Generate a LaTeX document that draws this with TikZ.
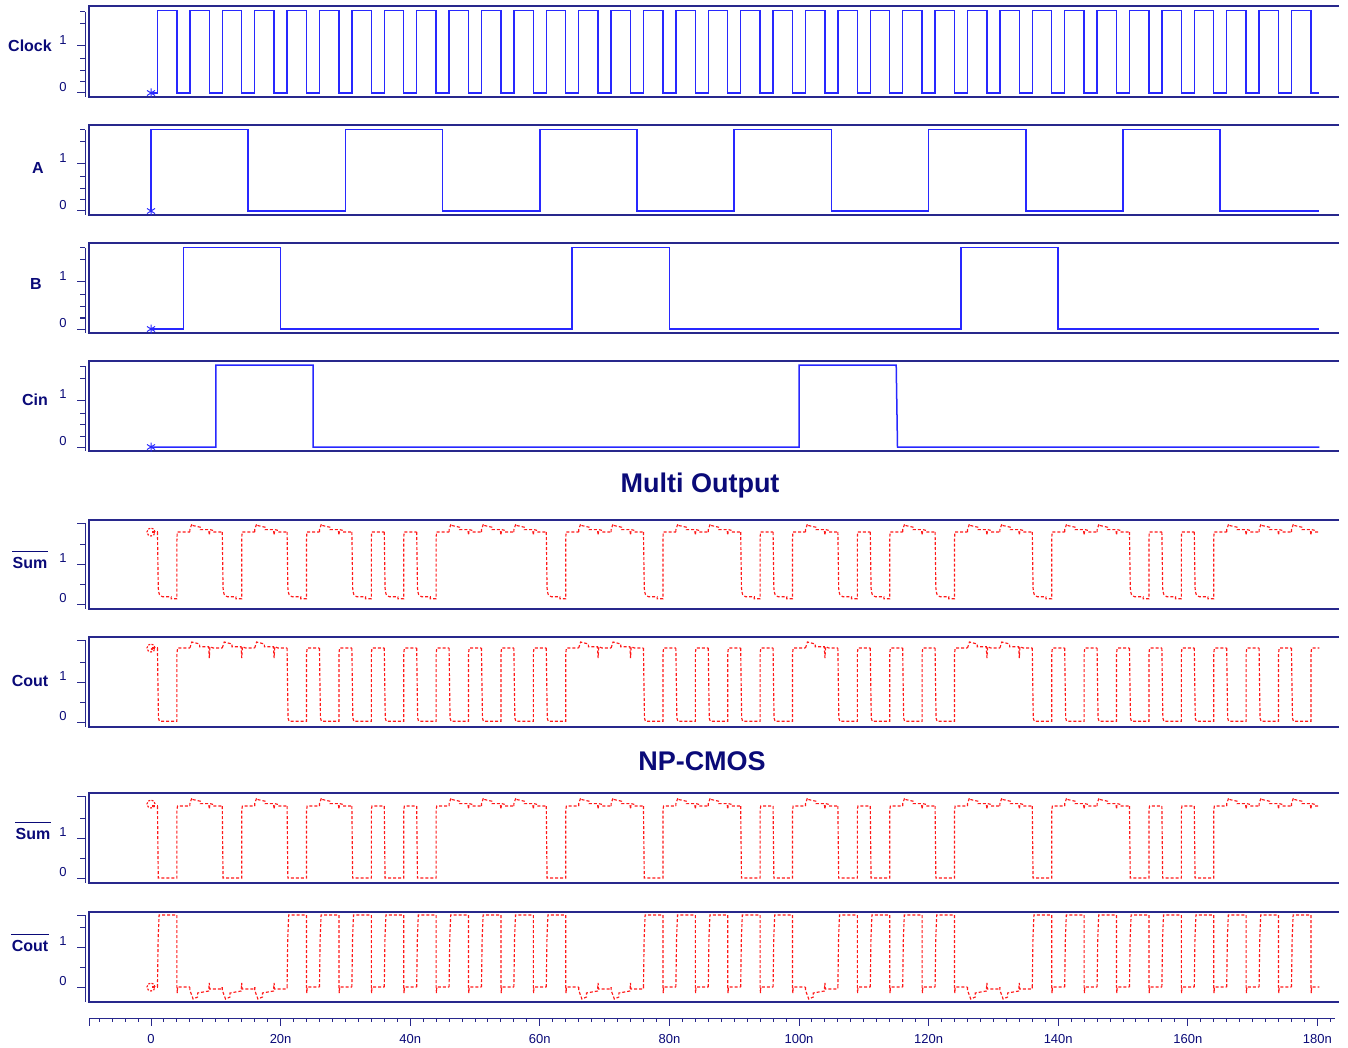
\documentclass[tikz,border=0pt]{standalone}
\usepackage{fontspec}
\setmainfont{Liberation Sans}
\definecolor{navy}{RGB}{10,10,120}
\definecolor{framec}{RGB}{40,40,140}
\definecolor{sigblue}{RGB}{40,40,255}
\definecolor{sigred}{RGB}{255,25,25}
\tikzset{
  panelline/.style={draw=framec, line width=1.4pt},
  tck/.style={draw=framec, line width=1pt},
  sig/.style={draw=sigblue, line width=1.5pt},
  redtrace/.style={draw=sigred, line width=1.15pt, dash pattern=on 3pt off 2pt},
  signame/.style={text=navy, font=\fontsize{16}{16}\selectfont\bfseries},
  numlab/.style={text=navy, font=\fontsize{13}{13}\selectfont},
  headline/.style={text=navy, font=\fontsize{27}{27}\selectfont\bfseries},
  bar/.style={draw=navy, line width=1.1pt},
}
% Rahmen fuer die blauen Eingaenge: #1 oben, #2 unten
\newcommand{\bluepanel}[2]{%
  \draw[panelline] (1339,#1) -- (89,#1) -- (89,#2) -- (1339,#2);
  \draw[tck] (85,#2-85) -- (85,#2);
  \foreach \d in {15,26.5,38,73,85} \draw[tck] (80,#2-\d) -- (85,#2-\d);
  \foreach \d in {4,51} \draw[tck] (77,#2-\d) -- (85,#2-\d);
  \node[numlab] at (63,#2-10) {0};
  \node[numlab] at (63,#2-57) {1};
}
% Rahmen fuer die roten Ausgaenge: #1 oben, #2 unten, #3 Nulllinie
\newcommand{\redpanel}[3]{%
  \draw[panelline] (1339,#1) -- (89,#1) -- (89,#2) -- (1339,#2);
  \draw[tck] (85,#1+3) -- (85,#2);
  \foreach \d in {20,60} \draw[tck] (80,#3-\d) -- (85,#3-\d);
  \foreach \d in {0,40} \draw[tck] (77,#3-\d) -- (85,#3-\d);
  \draw[tck] (77,#1+3) -- (85,#1+3);
  \node[numlab] at (63,#3-6) {0};
  \node[numlab] at (63,#3-46) {1};
}
% Sternchen am Startpunkt
\newcommand{\startstar}[1]{%
  \draw[sig, line width=1pt] (151,#1) +(0,-4.5) -- +(0,4.5) +(-4,-2.5) -- +(4,2.5) +(-4,2.5) -- +(4,-2.5);
}
\begin{document}
\begin{tikzpicture}[x=1pt, y=-1pt]
	\useasboundingbox (0,0) rectangle (1348,1048);

	\bluepanel{6}{97}%Clock
	\bluepanel{125}{215}%A
	\bluepanel{243}{333}%B
	\bluepanel{361}{451}%Cin
	\redpanel{520}{609}{604}%Sum multi
	\redpanel{637}{727}{722}%Cout multi
	\redpanel{793}{883}{878}%Sum np
	\redpanel{912}{1002}{987}%Cout np

	\node[signame] (clk) at (30,46) {Clock};
	\node[signame] (a) at (38,168) {A};
	\node[signame] (b) at (36,284) {B};
	\node[signame] (cin) at (35,400) {Cin};
	\node[signame] (summ) at (30,563) {Sum};
	\node[signame] (coutm) at (30,681) {Cout};
	\node[signame] (sumn) at (33,834) {Sum};
	\node[signame] (coutn) at (30,946) {Cout};
	\draw[bar] ([xshift=3pt, yshift=2pt]summ.north west) -- ([xshift=-3pt, yshift=2pt]summ.north east);%Balken
	\draw[bar] ([xshift=3pt, yshift=2pt]sumn.north west) -- ([xshift=-3pt, yshift=2pt]sumn.north east);
	\draw[bar] ([xshift=3pt, yshift=2pt]coutn.north west) -- ([xshift=-3pt, yshift=2pt]coutn.north east);

	\node[headline] (multi) at (700,486) {Multi Output};
	\node[headline] (np) at (702,761) {NP-CMOS};

	% blaue Eingaenge, x in ns
	\begin{scope}[shift={(151,0)}, xscale=6.48]
		\draw[sig] (0,93) \foreach \k in {0,...,35}{ -- (1+5*\k,93) -- (1+5*\k,10.7) -- (4+5*\k,10.7) -- (4+5*\k,93) } -- (180.3,93);%Takt
		\draw[sig] (0,211) \foreach \m in {0,...,5}{ -- (30*\m,211) -- (30*\m,129.3) -- (30*\m+15,129.3) -- (30*\m+15,211) } -- (180.3,211);%A
		\draw[sig] (0,329) -- (5,329) -- (5,247.3) -- (20,247.3) -- (20,329) -- (65,329) -- (65,247.3) -- (80,247.3) -- (80,329)
			-- (125,329) -- (125,247.3) -- (140,247.3) -- (140,329) -- (180.3,329);%B
		\draw[sig] (0,447) -- (10,447) -- (10,365) -- (25,365) -- (25,447) -- (100,447) -- (100,365) -- (115,365) -- (115.2,447) -- (180.3,447);%Cin
	\end{scope}
	\startstar{93}
	\startstar{211}
	\startstar{329}
	\startstar{447}

	% Sum multi
	\begin{scope}[shift={(151,604)}, xscale=6.48, yscale=-40]
		\clip (-1,-1) rectangle (180.3,2.5);
		\draw[redtrace] (0.2,1.8) -- (1,1.8);
		\foreach \k in {0,2,4,6,7,8,12,15,18,19,21,22,24,27,30,31,32}{
			\pgfmathsetmacro\t{1+5*\k}
			\draw[redtrace] (\t,1.8) -- (\t+0.05,1.2) -- (\t+0.12,0.4) .. controls (\t+0.25,0.22) .. (\t+0.8,0.18) -- (\t+2.1,0.18)
				-- (\t+2.1,0.13) -- (\t+3,0.13) -- (\t+3,1.6) -- (\t+3.05,1.8) -- (\t+5,1.8);
		}
		\foreach \k in {1,3,5,9,10,11,13,14,16,17,20,23,25,26,28,29,33,34,35}{
			\pgfmathsetmacro\t{1+5*\k}
			\draw[redtrace] (\t,1.8) -- (\t,1.86) -- (\t+0.3,2.0) -- (\t+0.5,1.96) -- (\t+1.6,1.92) -- (\t+1.6,1.86) -- (\t+2.9,1.86)
				-- (\t+3,1.72) -- (\t+3.1,1.86) -- (\t+3.6,1.84) -- (\t+3.6,1.8) -- (\t+5,1.8);
		}
	\end{scope}
	\draw[redtrace, dash pattern=on 2pt off 1.5pt] (151,532) circle[radius=4pt];

	% Cout multi
	\begin{scope}[shift={(151,722)}, xscale=6.48, yscale=-40]
		\clip (-1,-1) rectangle (180.3,2.5);
		\draw[redtrace] (0.2,1.85) -- (1,1.85);
		\foreach \k in {0,4,5,6,7,8,9,10,11,12,15,16,17,18,19,21,22,23,24,27,28,29,30,31,32,33,34,35}{
			\pgfmathsetmacro\t{1+5*\k}
			\draw[redtrace] (\t,1.85) -- (\t+0.05,1.2) -- (\t+0.15,0.1) -- (\t+0.3,0.02) -- (\t+3,0.02) -- (\t+3,1.7) -- (\t+3.1,1.85) -- (\t+5,1.85);
		}
		\foreach \k in {1,2,3,13,14,20,25,26}{
			\pgfmathsetmacro\t{1+5*\k}
			\draw[redtrace] (\t,1.85) -- (\t+0.3,2.0) -- (\t+1.5,1.95) -- (\t+1.5,1.88) -- (\t+2.9,1.88) -- (\t+3,1.6) -- (\t+3.1,1.88)
				-- (\t+3.6,1.85) -- (\t+5,1.85);
		}
	\end{scope}
	\draw[redtrace, dash pattern=on 2pt off 1.5pt] (151,648) circle[radius=4pt];
	\fill[sigred] (152,649) circle[radius=1.3pt];

	% Sum np
	\begin{scope}[shift={(151,878)}, xscale=6.48, yscale=-40]
		\clip (-1,-1) rectangle (180.3,2.5);
		\draw[redtrace] (0.2,1.8) -- (1,1.8);
		\foreach \k in {0,2,4,6,7,8,12,15,18,19,21,22,24,27,30,31,32}{
			\pgfmathsetmacro\t{1+5*\k}
			\draw[redtrace] (\t,1.8) -- (\t+0.05,1.0) -- (\t+0.12,0) -- (\t+3,0) -- (\t+3,1.7) -- (\t+3.1,1.8) -- (\t+5,1.8);
		}
		\foreach \k in {1,3,5,9,10,11,13,14,16,17,20,23,25,26,28,29,33,34,35}{
			\pgfmathsetmacro\t{1+5*\k}
			\draw[redtrace] (\t,1.8) -- (\t,1.86) -- (\t+0.3,2.0) -- (\t+0.5,1.96) -- (\t+1.6,1.92) -- (\t+1.6,1.86) -- (\t+2.9,1.86)
				-- (\t+3,1.72) -- (\t+3.1,1.86) -- (\t+3.6,1.84) -- (\t+3.6,1.8) -- (\t+5,1.8);
		}
	\end{scope}
	\draw[redtrace, dash pattern=on 2pt off 1.5pt] (151,804) circle[radius=4pt];

	% Cout np
	\begin{scope}[shift={(151,987)}, xscale=6.48, yscale=-40]
		\clip (-1,-1) rectangle (180.3,2.5);
		\draw[redtrace] (0.2,0) -- (1,0);
		\foreach \k in {0,4,5,6,7,8,9,10,11,12,15,16,17,18,19,21,22,23,24,27,28,29,30,31,32,33,34,35}{
			\pgfmathsetmacro\t{1+5*\k}
			\draw[redtrace] (\t,0) -- (\t+0.1,1.2) -- (\t+0.25,1.8) -- (\t+3,1.8) -- (\t+3,0) -- (\t+3.05,-0.15) -- (\t+3.1,0) -- (\t+5,0);
		}
		\foreach \k in {1,2,3,13,14,20,25,26}{
			\pgfmathsetmacro\t{1+5*\k}
			\draw[redtrace] (\t,0) -- (\t,-0.08) -- (\t+0.5,-0.3) -- (\t+1.2,-0.25) -- (\t+1.2,-0.15) -- (\t+2.9,-0.1) -- (\t+3,0.1)
				-- (\t+3.05,-0.05) -- (\t+5,-0.05) -- (\t+5,0);
		}
	\end{scope}
	\draw[redtrace, dash pattern=on 2pt off 1.5pt] (151,987) circle[radius=4pt];

	% Zeitachse
	\draw[tck] (89,1018) -- (1335,1018);
	\draw[tck] (89,1018) -- (89,1026);
	\foreach \t in {-8,-6,...,182} \draw[tck] ({151+6.48*\t},1018) -- ++(0,4);
	\foreach \t/\l in {0/0,20/20n,40/40n,60/60n,80/80n,100/100n,120/120n,140/140n,160/160n,180/180n}{
		\draw[tck] ({151+6.48*\t},1018) -- ++(0,8);
		\node[numlab] at ({151+6.48*\t},1039) {\l};
	}

\end{tikzpicture}
\end{document}
